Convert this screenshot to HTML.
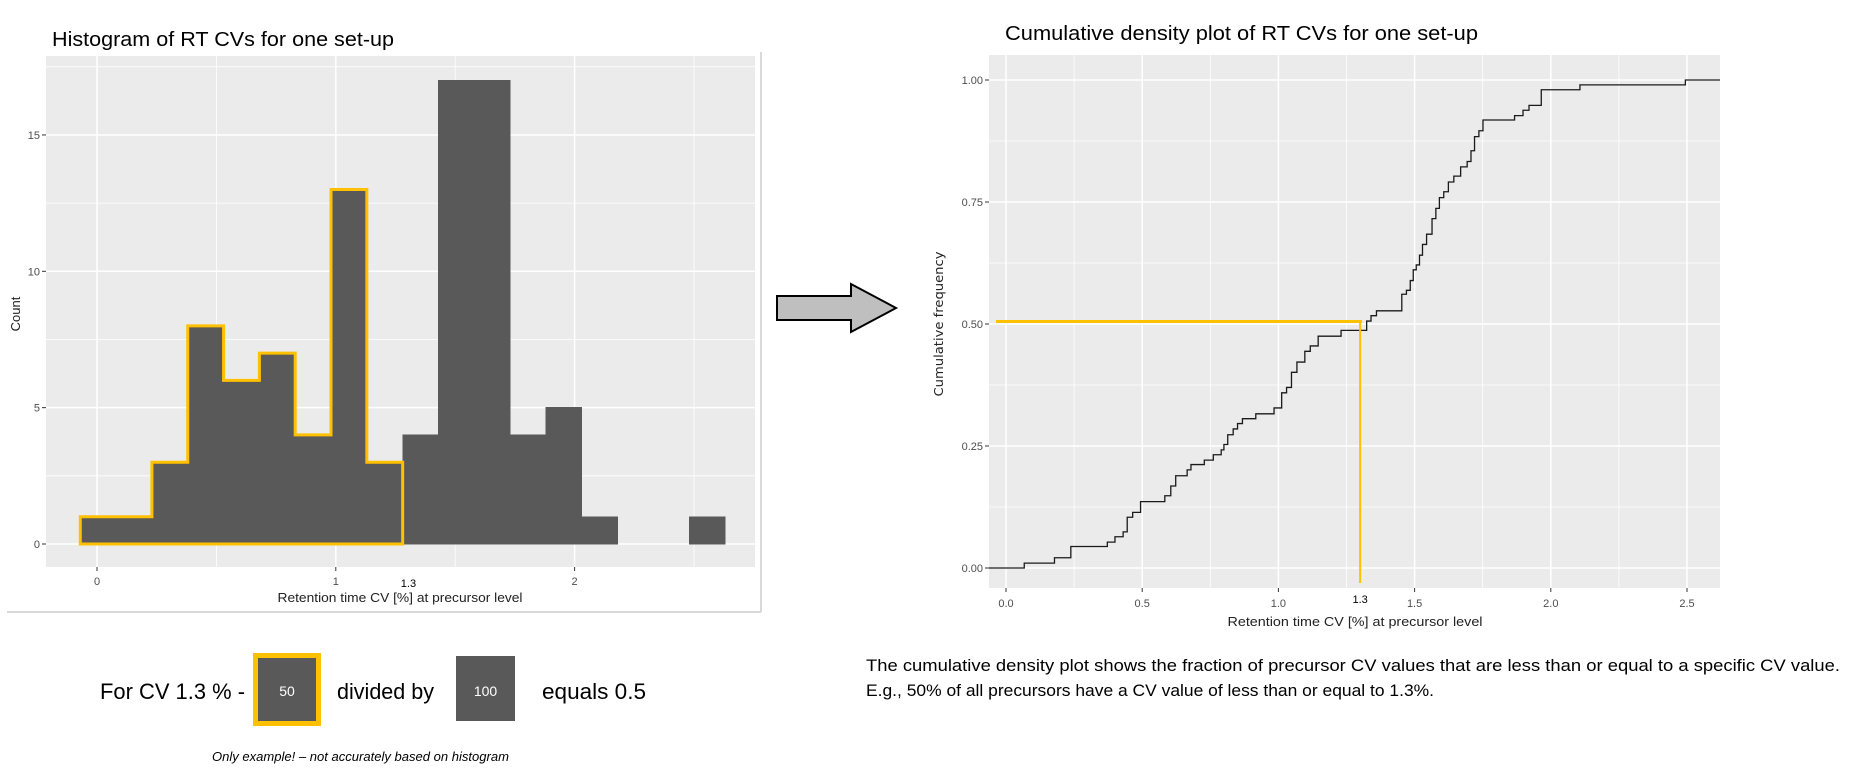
<!DOCTYPE html>
<html><head><meta charset="utf-8"><style>
html,body{margin:0;padding:0;background:#fff;}
svg{display:block;}
text{font-family:"Liberation Sans",sans-serif;}
</style></head><body>
<svg id="root" width="1851" height="782" viewBox="0 0 1851 782" xmlns="http://www.w3.org/2000/svg">
<g id="left"></g>
<g id="right"></g>
<g>
<path d="M777,296 L851,296 L851,284 L896,308 L851,332 L851,320 L777,320 Z" fill="#bfbfbf" stroke="#000" stroke-width="2"/>
</g>
<g>
<text x="100" y="699" font-size="22" textLength="145" lengthAdjust="spacingAndGlyphs">For CV 1.3 % -</text>
<rect x="255.5" y="655.5" width="63" height="68" fill="#595959" stroke="#ffc000" stroke-width="5"/>
<text x="287" y="696" font-size="14" fill="#fff" text-anchor="middle">50</text>
<text x="337" y="699" font-size="22" textLength="97" lengthAdjust="spacingAndGlyphs">divided by</text>
<rect x="456" y="656" width="59" height="65" fill="#595959"/>
<text x="485.5" y="696" font-size="14" fill="#fff" text-anchor="middle">100</text>
<text x="542" y="699" font-size="22" textLength="104" lengthAdjust="spacingAndGlyphs">equals 0.5</text>
<text x="212" y="761" font-size="13" font-style="italic" textLength="297" lengthAdjust="spacingAndGlyphs">Only example! – not accurately based on histogram</text>
</g>
<g>
<text x="866" y="671" font-size="17" textLength="974" lengthAdjust="spacingAndGlyphs">The cumulative density plot shows the fraction of precursor CV values that are less than or equal to a specific CV value.</text>
<text x="866" y="696" font-size="17" textLength="568" lengthAdjust="spacingAndGlyphs">E.g., 50% of all  precursors have a CV value of less than or equal to 1.3%.</text>
</g>
</svg>
<script>
// Histogram data
const binEdgesStart = -0.07;
const binWidth = 0.15;
const binCounts = [1,1,3,8,6,7,4,13,3,4,17,17,4,5,1,0,0,1];
const highlightBins = 9; // first 9 bins outlined (up to CV 1.3)
const histXTicks = [0,1,2];
const histYTicks = [0,5,10,15];
// ECDF data
const ecdfX = [0.067,0.178,0.238,0.372,0.40,0.43,0.445,0.465,0.494,0.583,0.605,0.623,0.665,0.679,0.728,0.761,0.79,0.80,0.814,0.834,0.85,0.868,0.917,0.984,1.012,1.03,1.048,1.068,1.097,1.117,1.146,1.23,1.324,1.34,1.36,1.453,1.47,1.484,1.495,1.506,1.518,1.529,1.544,1.564,1.578,1.591,1.607,1.624,1.644,1.669,1.693,1.707,1.72,1.736,1.751,1.867,1.898,1.92,1.965,2.107,2.494];
const ecdfY = [0.010,0.021,0.044,0.053,0.064,0.074,0.104,0.114,0.136,0.148,0.168,0.189,0.201,0.212,0.221,0.232,0.242,0.253,0.273,0.285,0.296,0.306,0.316,0.328,0.359,0.370,0.401,0.422,0.444,0.455,0.475,0.487,0.506,0.517,0.527,0.561,0.569,0.589,0.611,0.621,0.641,0.663,0.684,0.716,0.737,0.759,0.771,0.791,0.803,0.822,0.833,0.855,0.884,0.896,0.918,0.927,0.938,0.948,0.980,0.99,1.0];
const ecdfXTicks = [0,0.5,1,1.5,2,2.5];
const ecdfXTickLabels = ['0.0','0.5','1.0','1.5','2.0','2.5'];
const ecdfYTicks = [0,0.25,0.5,0.75,1];
const ecdfYTickLabels = ['0.00','0.25','0.50','0.75','1.00'];
const markerCV = 1.3;
const markerFrac = 0.505;

const NS='http://www.w3.org/2000/svg';
function mk(parent,tag,attrs,txt){const e=document.createElementNS(NS,tag);for(const k in attrs)e.setAttribute(k,attrs[k]);if(txt!==undefined)e.textContent=txt;parent.appendChild(e);return e;}

// ---------- Left histogram ----------
(function(){
const g=document.getElementById('left');
const P={l:46,r:755,t:56,b:567};
const xs=v=>97+v*238.8;
const ys=v=>544-v*27.27;
mk(g,'line',{x1:7,y1:612,x2:761,y2:612,stroke:'#d9d9d9','stroke-width':2});
mk(g,'line',{x1:761,y1:52,x2:761,y2:612,stroke:'#d9d9d9','stroke-width':2});
const t=mk(g,'text',{x:52,y:46,'font-size':20,textLength:342,lengthAdjust:'spacingAndGlyphs'},'Histogram of RT CVs for one set-up');


const bg=mk(g,'rect',{x:P.l,y:P.t,width:P.r-P.l,height:P.b-P.t,fill:'#ebebeb'});


for(let v=2.5;v<18;v+=5)mk(g,'line',{x1:P.l,x2:P.r,y1:ys(v),y2:ys(v),stroke:'#fff','stroke-width':0.8});
for(let v=-0.5;v<3;v+=1){if(xs(v)>P.l&&xs(v)<P.r)mk(g,'line',{x1:xs(v),x2:xs(v),y1:P.t,y2:P.b,stroke:'#fff','stroke-width':0.8});}
histYTicks.forEach(v=>{mk(g,'line',{x1:P.l,x2:P.r,y1:ys(v),y2:ys(v),stroke:'#fff','stroke-width':1.5});
 mk(g,'line',{x1:P.l-4,x2:P.l,y1:ys(v),y2:ys(v),stroke:'#333'});
 const l=mk(g,'text',{x:P.l-6,y:ys(v)+4,'font-size':11,fill:'#4d4d4d','text-anchor':'end'},String(v));
 
 });
histXTicks.forEach(v=>{mk(g,'line',{x1:xs(v),x2:xs(v),y1:P.t,y2:P.b,stroke:'#fff','stroke-width':1.5});
 mk(g,'line',{x1:xs(v),x2:xs(v),y1:P.b,y2:P.b+4,stroke:'#333'});
 const l=mk(g,'text',{x:xs(v),y:585,'font-size':11,fill:'#4d4d4d','text-anchor':'middle'},String(v));
 
 });
binCounts.forEach((c,i)=>{if(c<=0)return;const x0=xs(binEdgesStart+i*binWidth),x1=xs(binEdgesStart+(i+1)*binWidth);
 const r=mk(g,'rect',{x:x0,y:ys(c),width:x1-x0,height:ys(0)-ys(c),fill:'#595959',stroke:'#595959','stroke-width':0.8,'shape-rendering':'crispEdges'});
 
 });
let d='M'+xs(binEdgesStart)+','+ys(0);
for(let i=0;i<highlightBins;i++){const x0=xs(binEdgesStart+i*binWidth),x1=xs(binEdgesStart+(i+1)*binWidth);d+=' L'+x0+','+ys(binCounts[i])+' L'+x1+','+ys(binCounts[i]);}
d+=' L'+xs(binEdgesStart+highlightBins*binWidth)+','+ys(0)+' Z';
const hp=mk(g,'path',{d:d,fill:'none',stroke:'#ffc000','stroke-width':3,'stroke-linejoin':'miter'});


const m=mk(g,'text',{x:xs(markerCV)+1,y:587,'font-size':11,fill:'#000','text-anchor':'middle'},'1.3');


const xt=mk(g,'text',{x:400,y:602,'font-size':13,fill:'#222','text-anchor':'middle',textLength:245,lengthAdjust:'spacingAndGlyphs'},'Retention time CV [%] at precursor level');


const yt=mk(g,'text',{x:0,y:0,'font-size':13,fill:'#222','text-anchor':'middle',transform:'translate(20,314) rotate(-90)'},'Count');


})();

// ---------- Right ECDF ----------
(function(){
const g=document.getElementById('right');
const P={l:989,r:1720,t:55,b:588};
const xs=v=>1006+v*272.4;
const ys=v=>568-v*488;
const t=mk(g,'text',{x:1005,y:40,'font-size':20,textLength:473,lengthAdjust:'spacingAndGlyphs'},'Cumulative density plot of RT CVs for one set-up');


const bg=mk(g,'rect',{x:P.l,y:P.t,width:P.r-P.l,height:P.b-P.t,fill:'#ebebeb'});


for(let v=0.125;v<1.1;v+=0.25)mk(g,'line',{x1:P.l,x2:P.r,y1:ys(v),y2:ys(v),stroke:'#fff','stroke-width':0.8});
for(let v=0.25;v<2.7;v+=0.5)mk(g,'line',{x1:xs(v),x2:xs(v),y1:P.t,y2:P.b,stroke:'#fff','stroke-width':0.8});
ecdfYTicks.forEach((v,i)=>{mk(g,'line',{x1:P.l,x2:P.r,y1:ys(v),y2:ys(v),stroke:'#fff','stroke-width':1.5});
 mk(g,'line',{x1:P.l-4,x2:P.l,y1:ys(v),y2:ys(v),stroke:'#333'});
 const l=mk(g,'text',{x:P.l-6,y:ys(v)+4,'font-size':11,fill:'#4d4d4d','text-anchor':'end'},ecdfYTickLabels[i]);
 
 });
ecdfXTicks.forEach((v,i)=>{mk(g,'line',{x1:xs(v),x2:xs(v),y1:P.t,y2:P.b,stroke:'#fff','stroke-width':1.5});
 mk(g,'line',{x1:xs(v),x2:xs(v),y1:P.b,y2:P.b+4,stroke:'#333'});
 const l=mk(g,'text',{x:xs(v),y:607,'font-size':11,fill:'#4d4d4d','text-anchor':'middle'},ecdfXTickLabels[i]);
 
 });
let d='M'+P.l+','+ys(0);
let prev=0;
ecdfX.forEach((x,i)=>{d+=' L'+xs(x)+','+ys(prev)+' L'+xs(x)+','+ys(ecdfY[i]);prev=ecdfY[i];});
d+=' L'+P.r+','+ys(prev);
const ln=mk(g,'path',{d:d,fill:'none',stroke:'#1a1a1a','stroke-width':1.3});


const h=mk(g,'line',{x1:996,x2:xs(markerCV)+2,y1:ys(markerFrac),y2:ys(markerFrac),stroke:'#ffc000','stroke-width':3});


const v=mk(g,'line',{x1:xs(markerCV),x2:xs(markerCV),y1:ys(markerFrac),y2:583,stroke:'#ffc000','stroke-width':2});


const m=mk(g,'text',{x:xs(markerCV),y:603,'font-size':11,fill:'#000','text-anchor':'middle'},'1.3');


const xt=mk(g,'text',{x:1355,y:626,'font-size':13,fill:'#222','text-anchor':'middle',textLength:255,lengthAdjust:'spacingAndGlyphs'},'Retention time CV [%] at precursor level');


const yt=mk(g,'text',{x:0,y:0,'font-size':12,fill:'#222','text-anchor':'middle',style:'font-family:"DejaVu Sans",sans-serif',textLength:145,lengthAdjust:'spacingAndGlyphs',transform:'translate(943,324) rotate(-90)'},'Cumulative frequency');


})();
</script>
</body></html>
